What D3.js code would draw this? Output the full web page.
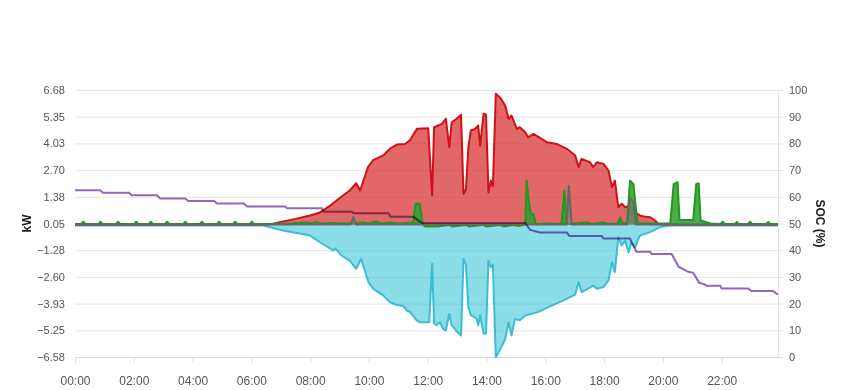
<!DOCTYPE html>
<html>
<head>
<meta charset="utf-8">
<script src="https://cdn.jsdelivr.net/npm/d3@7"></script>
<style>
	body{margin:0;background:#fff;font-family:Arial,"Liberation Sans",sans-serif;}
	.axis text{fill:#555;}
	.axis .domain{stroke:none;}
	.grid line{stroke:#e5e5e5;}
	.axis-x line,.axis-y2 line{stroke:#ddd;}
	.label{font-weight:bold;font-size:12px;fill:#222;}
</style>
</head>
<body>
<div id="chart"></div>
<script>
//tick labels
const timeTicks = ['00:00','02:00','04:00','06:00','08:00','10:00','12:00','14:00','16:00','18:00','20:00','22:00'];
const kwRange = [-6.58, 6.68]; //left axis, 11 even ticks
const socTicks = [0,10,20,30,40,50,60,70,80,90,100];

//series, [time, value]
const solar = [['00:00',0],['06:38',0],['07:00',0.13],['07:30',0.28],['08:00',0.45],['08:20',0.6],['08:41',0.94],['08:54',1.19],['09:07',1.44],['09:21',1.69],['09:34',2.05],['09:42',1.69],['09:58',2.85],['10:08',3.18],['10:29',3.43],['10:43',3.77],['10:57',3.97],['11:14',4.0],['11:24',4.2],['11:38',4.75],['12:01',4.78],['12:09',1.44],['12:13',4.83],['12:29',5.0],['12:37',5.25],['12:44',3.84],['12:49',5.08],['12:59',5.25],['13:08',5.45],['13:13',1.52],['13:18',1.75],['13:23',3.84],['13:28',4.67],['13:37',4.75],['13:43',4.92],['13:47',3.92],['13:54',5.5],['13:59',5.45],['14:04',1.6],['14:09',2.18],['14:13',1.9],['14:19',6.49],['14:28',6.3],['14:38',5.91],['14:45',5.25],['14:51',5.41],['15:02',4.75],['15:08',4.83],['15:19',4.58],['15:25',4.33],['15:36',4.5],['15:49',4.3],['16:03',4.09],['16:23',4.0],['16:44',3.76],['17:01',3.43],['17:08',2.85],['17:14',3.26],['17:31',3.1],['17:38',2.85],['17:45',3.09],['17:59',3.01],['18:09',2.68],['18:16',1.85],['18:22',2.18],['18:29',0.86],['18:36',1.03],['18:43',0.86],['18:53',0.95],['19:03',0.6],['19:13',0.45],['19:25',0.38],['19:34',0.36],['19:44',0.2],['19:51',0.03],['20:00',0],['23:55',0]];

const load = [['00:00',-0.05],['06:24',-0.05],['07:05',-0.3],['08:00',-0.55],['08:20',-0.88],['08:47',-1.29],['08:52',-1.2],['09:04',-1.54],['09:21',-1.8],['09:34',-2.2],['09:44',-1.7],['09:59',-2.86],['10:09',-3.2],['10:29',-3.52],['10:43',-3.86],['10:57',-4.0],['11:10',-4.05],['11:17',-4.27],['11:24',-4.35],['11:38',-4.77],['11:44',-4.85],['12:03',-4.85],['12:09',-1.95],['12:13',-4.9],['12:18',-5.0],['12:25',-4.85],['12:32',-5.2],['12:37',-5.26],['12:44',-4.43],['12:49',-5.0],['12:59',-5.3],['13:08',-5.51],['13:13',-1.7],['13:18',-2.0],['13:23',-4.1],['13:28',-4.5],['13:40',-4.68],['13:43',-5.0],['13:47',-4.5],['13:54',-5.43],['13:59',-5.4],['14:04',-1.79],['14:09',-2.12],['14:13',-2.0],['14:19',-6.59],['14:28',-6.2],['14:38',-5.7],['14:45',-4.85],['14:51',-5.5],['14:58',-4.7],['15:08',-4.75],['15:19',-4.52],['15:29',-4.45],['15:45',-4.35],['16:03',-4.14],['16:37',-3.77],['17:01',-3.48],['17:08',-2.86],['17:14',-3.36],['17:38',-3.03],['17:45',-3.19],['17:59',-3.1],['18:09',-2.78],['18:16',-1.87],['18:22',-2.37],['18:29',-0.63],['18:36',-1.04],['18:43',-0.8],['18:50',-1.38],['18:56',-0.88],['19:03',-1.13],['19:13',-0.55],['19:34',-0.38],['19:54',-0.13],['20:15',-0.05],['23:55',-0.05]];

const grid = [['00:00',0.03],['00:13',0.03],['00:17',0.14],['00:21',0.03],['00:48',0.03],['00:52',0.14],['00:56',0.03],['01:24',0.03],['01:28',0.14],['01:32',0.03],['02:01',0.03],['02:05',0.14],['02:09',0.03],['02:31',0.03],['02:35',0.14],['02:39',0.03],['03:04',0.03],['03:08',0.14],['03:12',0.03],['03:41',0.03],['03:45',0.14],['03:49',0.03],['04:15',0.03],['04:19',0.14],['04:23',0.03],['04:50',0.03],['04:54',0.14],['04:58',0.03],['05:23',0.03],['05:27',0.14],['05:31',0.03],['05:57',0.03],['06:01',0.14],['06:05',0.03],['06:30',0.03],['07:20',0.05],['07:53',0.1],['08:00',0.05],['08:13',0.12],['08:20',0.05],['08:41',0.08],['09:20',0.05],['09:48',0.1],['10:00',0.05],['10:14',0.15],['10:25',0.05],['10:43',0.1],['11:00',0.05],['11:17',0.08],['11:30',0.1],['11:35',1.03],['11:44',1.03],['11:50',0.0],['11:55',-0.1],['12:20',-0.1],['12:44',-0.02],['12:50',-0.1],['13:18',-0.02],['13:25',-0.1],['13:52',-0.02],['14:00',-0.1],['14:28',-0.02],['14:35',-0.1],['14:55',-0.02],['15:05',-0.08],['15:19',0.0],['15:22',2.2],['15:25',1.45],['15:30',0.55],['15:36',0.5],['15:41',0.02],['16:03',0.05],['16:33',0.03],['16:39',1.69],['16:44',0.03],['17:25',0.1],['17:35',0.03],['17:58',0.1],['18:10',0.03],['18:28',0.05],['18:33',0.36],['18:38',0.05],['18:47',0.1],['18:53',2.18],['19:00',2.0],['19:04',1.0],['19:09',0.05],['20:15',0.05],['20:22',2.0],['20:30',2.1],['20:34',0.23],['21:02',0.23],['21:08',2.0],['21:13',2.05],['21:17',0.2],['21:37',0.05],['21:58',0.03],['22:02',0.14],['22:06',0.03],['22:27',0.03],['22:31',0.12],['22:35',0.03],['22:54',0.03],['22:58',0.14],['23:02',0.03],['23:31',0.03],['23:35',0.12],['23:39',0.03],['23:55',0.03]];

const other = [['00:00',0],['09:23',0],['09:28',0.36],['09:34',0],['16:44',0],['16:48',1.93],['16:54',0],['18:47',0],['18:53',1.3],['19:00',1.1],['19:05',0],['23:55',0]];

const soc = [['00:00',62.5],['00:51',62.5],['00:57',61.5],['01:50',61.5],['01:56',60.6],['02:47',60.6],['02:54',59.4],['03:45',59.4],['03:51',58.4],['04:44',58.4],['04:50',57.5],['05:45',57.5],['05:51',56.4],['07:09',56.4],['07:13',55.7],['08:24',55.7],['08:28',54.4],['09:25',54.4],['09:29',53.8],['10:40',53.8],['10:44',52.5],['11:31',52.5],['11:48',50.2],['15:19',50.2],['15:29',47.6],['15:49',46.6],['16:44',46.6],['16:49',45.3],['17:55',45.3],['17:59',44.4],['18:53',44.4],['18:56',43],['19:06',39.4],['19:34',39.4],['19:37',38.6],['20:18',38.6],['20:32',33.8],['20:52',31.9],['21:02',31.5],['21:14',27.8],['21:24',27.3],['21:29',26.7],['21:57',26.7],['22:00',25.7],['22:54',25.7],['23:01',24.7],['23:45',24.7],['23:53',23.6],['23:55',23.6]];

const toMin = s => {
	const [h,m] = s.split(':').map(Number);
	return h*60 + m;
};

const width = 849, height = 390;
const margin = {t:90,r:71,b:33,l:75};
const w = width - margin.l - margin.r;
const h = height - margin.t - margin.b;

const svg = d3.select('#chart').append('svg')
	.attr('width',width)
	.attr('height',height);
const plot = svg.append('g')
	.attr('transform',`translate(${margin.l},${margin.t})`);

//scales
const scaleX = d3.scaleLinear().domain([0, toMin('23:55')]).range([0,w]);
const scaleY = d3.scaleLinear().domain(kwRange).range([h,0]);
const scaleSoc = d3.scaleLinear().domain([0,100]).range([h,0]);
const kwTicks = d3.range(11).map(i => kwRange[0] + i*(kwRange[1]-kwRange[0])/10);

//grid + left axis
plot.append('g')
	.attr('class','axis grid axis-y')
	.call(d3.axisLeft(scaleY).tickValues(kwTicks).tickFormat(d3.format('.2f')).tickSize(-w).tickPadding(10))
	.call(g => g.selectAll('text').style('font-size','11px'));

//bottom axis
plot.append('g')
	.attr('class','axis axis-x')
	.attr('transform',`translate(0,${h})`)
	.call(d3.axisBottom(scaleX).tickValues(timeTicks.map(toMin)).tickFormat((d,i) => timeTicks[i]).tickSize(6).tickSizeOuter(0).tickPadding(13))
	.call(g => g.selectAll('text').style('font-size','12px'));
plot.append('line')
	.attr('x1',0).attr('x2',w).attr('y1',h+0.5).attr('y2',h+0.5)
	.style('stroke','#d8d8d8');

//right axis
plot.append('g')
	.attr('class','axis axis-y2')
	.attr('transform',`translate(${w},0)`)
	.call(d3.axisRight(scaleSoc).tickValues(socTicks).tickSize(5).tickSizeOuter(0).tickPadding(6))
	.call(g => g.selectAll('text').style('font-size','11px'));
plot.append('line')
	.attr('x1',w+0.5).attr('x2',w+0.5).attr('y1',0).attr('y2',h)
	.style('stroke','#e0e0e0');

//areas
const area = d3.area()
	.x(d => scaleX(toMin(d[0])))
	.y0(scaleY(0))
	.y1(d => scaleY(d[1]));
const line = d3.line()
	.x(d => scaleX(toMin(d[0])))
	.y(d => scaleY(d[1]));

const layers = [
	{data:load, fill:'#17becf', fillOpacity:0.5, stroke:'#3dbcd4'},
	{data:solar, fill:'#d62728', fillOpacity:0.7, stroke:'#d0101a'},
	{data:grid, fill:'#2ca02c', fillOpacity:0.85, stroke:'#1f9a1f'},
	{data:other, fill:'#7f7f7f', fillOpacity:0.6, stroke:'#666'}
];

layers.forEach(l => {
	plot.append('path')
		.datum(l.data)
		.attr('d',area)
		.style('fill',l.fill)
		.style('fill-opacity',l.fillOpacity)
		.style('stroke','none');
	plot.append('path')
		.datum(l.data)
		.attr('d',line)
		.style('fill','none')
		.style('stroke',l.stroke)
		.style('stroke-width',2)
		.style('stroke-linejoin','round');
});

//soc line
const socLine = d3.line()
	.x(d => scaleX(toMin(d[0])))
	.y(d => scaleSoc(d[1]));
plot.append('path')
	.datum(soc)
	.attr('d',socLine)
	.style('fill','none')
	.style('stroke','#9467bd')
	.style('stroke-width',2)
	.style('mix-blend-mode','multiply');

//axis labels
svg.append('text')
	.attr('class','label')
	.attr('transform',`translate(31,${margin.t + scaleY(0.05)}) rotate(-90)`)
	.attr('text-anchor','middle')
	.text('kW');
svg.append('text')
	.attr('class','label')
	.attr('transform',`translate(816,${margin.t + scaleY(0.05)}) rotate(90)`)
	.attr('text-anchor','middle')
	.text('SOC (%)');
</script>
</body>
</html>
